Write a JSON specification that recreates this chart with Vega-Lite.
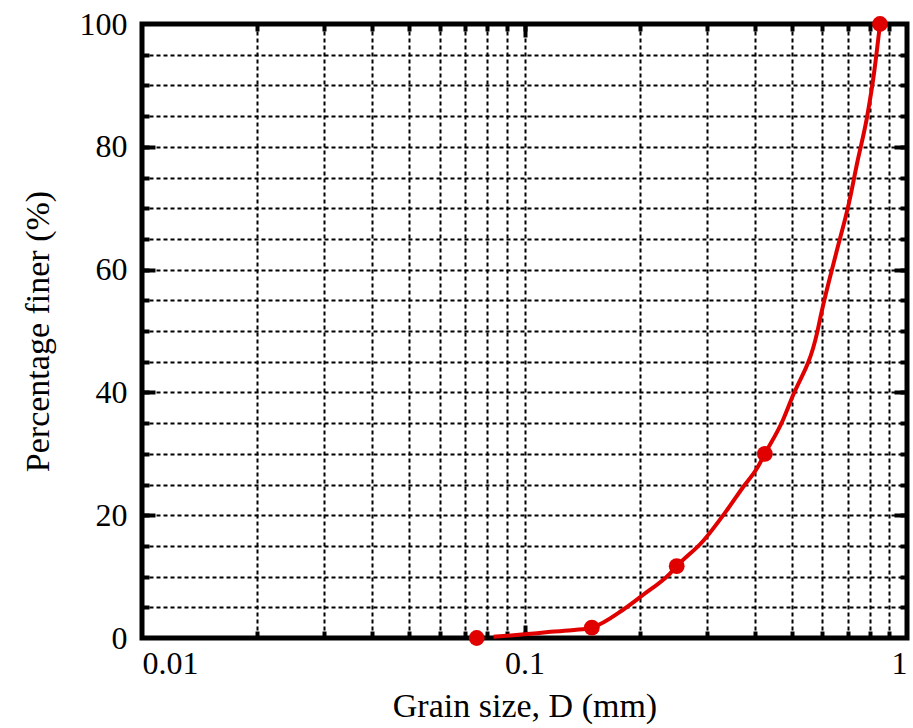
{
  "$schema": "https://vega.github.io/schema/vega-lite/v6.json",
  "autosize": "none",
  "width": 765,
  "height": 614,
  "padding": {"left": 142, "top": 24, "right": 6, "bottom": 90},
  "config": {
    "view": {"stroke": "black", "strokeWidth": 5},
    "font": "Liberation Serif",
    "axis": {
      "domain": false,
      "labelFont": "Liberation Serif",
      "titleFont": "Liberation Serif",
      "labelFontSize": 32,
      "titleFontSize": 34,
      "titleFontWeight": "normal",
      "labelColor": "black",
      "titleColor": "black",
      "tickColor": "black",
      "gridColor": "black"
    }
  },
  "datasets": {
    "curve": [
      {"d": 0.083, "p": 0.2},
      {"d": 0.1, "p": 0.6},
      {"d": 0.117, "p": 1.0},
      {"d": 0.135, "p": 1.3},
      {"d": 0.15, "p": 1.7},
      {"d": 0.181, "p": 4.6},
      {"d": 0.204, "p": 7.0},
      {"d": 0.24, "p": 10.5},
      {"d": 0.25, "p": 11.7},
      {"d": 0.293, "p": 15.8},
      {"d": 0.338, "p": 20.8},
      {"d": 0.373, "p": 24.6},
      {"d": 0.405, "p": 27.6},
      {"d": 0.425, "p": 30},
      {"d": 0.474, "p": 35.5},
      {"d": 0.501, "p": 39.2},
      {"d": 0.582, "p": 49.7},
      {"d": 0.597, "p": 52.9},
      {"d": 0.653, "p": 62.7},
      {"d": 0.706, "p": 71.0},
      {"d": 0.741, "p": 77.4},
      {"d": 0.787, "p": 85.0},
      {"d": 0.82, "p": 92.0},
      {"d": 0.85, "p": 100}
    ],
    "sieve": [
      {"d": 0.075, "p": 0},
      {"d": 0.15, "p": 1.7},
      {"d": 0.25, "p": 11.7},
      {"d": 0.425, "p": 30},
      {"d": 0.85, "p": 100}
    ]
  },
  "resolve": {"axis": {"x": "independent", "y": "independent"}},
  "layer": [
    {
      "data": {"name": "sieve"},
      "mark": {"type": "point", "opacity": 0},
      "encoding": {
        "x": {"field": "d", "type": "quantitative",
          "scale": {"type": "log", "domain": [0.01, 1], "nice": false},
          "axis": {"orient": "bottom", "values": [0.02,0.03,0.04,0.05,0.06,0.07,0.08,0.09,0.1,0.2,0.3,0.4,0.5,0.6,0.7,0.8,0.9],
            "labels": false, "title": null, "grid": true, "gridDash": [4, 3], "gridWidth": 2,
            "ticks": true, "tickSize": -7, "tickWidth": 4}},
        "y": {"field": "p", "type": "quantitative",
          "scale": {"domain": [0, 100], "nice": false, "zero": true},
          "axis": {"orient": "left", "values": [5,10,15,20,25,30,35,40,45,50,55,60,65,70,75,80,85,90,95],
            "labels": false, "title": null, "grid": true, "gridDash": [4, 3], "gridWidth": 2,
            "ticks": true, "tickSize": -7, "tickWidth": 4}}
      }
    },
    {
      "data": {"name": "sieve"},
      "mark": {"type": "point", "opacity": 0},
      "encoding": {
        "x": {"field": "d", "type": "quantitative",
          "axis": {"orient": "top", "values": [0.02,0.03,0.04,0.05,0.06,0.07,0.08,0.09,0.1,0.2,0.3,0.4,0.5,0.6,0.7,0.8,0.9],
            "labels": false, "title": null, "grid": false, "ticks": true, "tickSize": -7, "tickWidth": 4}},
        "y": {"field": "p", "type": "quantitative",
          "axis": {"orient": "right", "values": [5,10,15,20,25,30,35,40,45,50,55,60,65,70,75,80,85,90,95],
            "labels": false, "title": null, "grid": false, "ticks": true, "tickSize": -7, "tickWidth": 4}}
      }
    },
    {
      "data": {"name": "sieve"},
      "mark": {"type": "point", "opacity": 0},
      "encoding": {
        "x": {"field": "d", "type": "quantitative",
          "axis": {"orient": "top", "values": [0.1],
            "labels": false, "title": null, "grid": false, "ticks": true, "tickSize": -13, "tickWidth": 4}},
        "y": {"field": "p", "type": "quantitative",
          "axis": {"orient": "right", "values": [20, 40, 60, 80],
            "labels": false, "title": null, "grid": false, "ticks": true, "tickSize": -13, "tickWidth": 4}}
      }
    },
    {
      "data": {"name": "sieve"},
      "mark": {"type": "point", "opacity": 0},
      "encoding": {
        "x": {"field": "d", "type": "quantitative",
          "axis": {"orient": "bottom", "values": [0.1],
            "labels": false, "title": null, "grid": false, "ticks": true, "tickSize": -13, "tickWidth": 4}},
        "y": {"field": "p", "type": "quantitative",
          "axis": {"orient": "left", "values": [20, 40, 60, 80],
            "labels": false, "title": null, "grid": false, "ticks": true, "tickSize": -13, "tickWidth": 4}}
      }
    },
    {
      "data": {"name": "curve"},
      "mark": {"type": "line", "color": "#e00000", "strokeWidth": 4, "interpolate": "monotone"},
      "encoding": {
        "x": {"field": "d", "type": "quantitative",
          "axis": {"orient": "bottom", "values": [0.01, 0.1, 1], "format": "~g",
            "ticks": false, "grid": false, "labelPadding": 10,
            "title": "Grain size, D (mm)", "titlePadding": 10}},
        "y": {"field": "p", "type": "quantitative",
          "axis": {"orient": "left", "values": [0, 20, 40, 60, 80, 100],
            "ticks": false, "grid": false, "labelPadding": 15,
            "title": "Percentage finer (%)", "titlePadding": 24}}
      }
    },
    {
      "data": {"name": "sieve"},
      "mark": {"type": "circle", "color": "#e00000", "opacity": 1, "size": 250},
      "encoding": {
        "x": {"field": "d", "type": "quantitative", "axis": null},
        "y": {"field": "p", "type": "quantitative", "axis": null}
      }
    }
  ]
}
